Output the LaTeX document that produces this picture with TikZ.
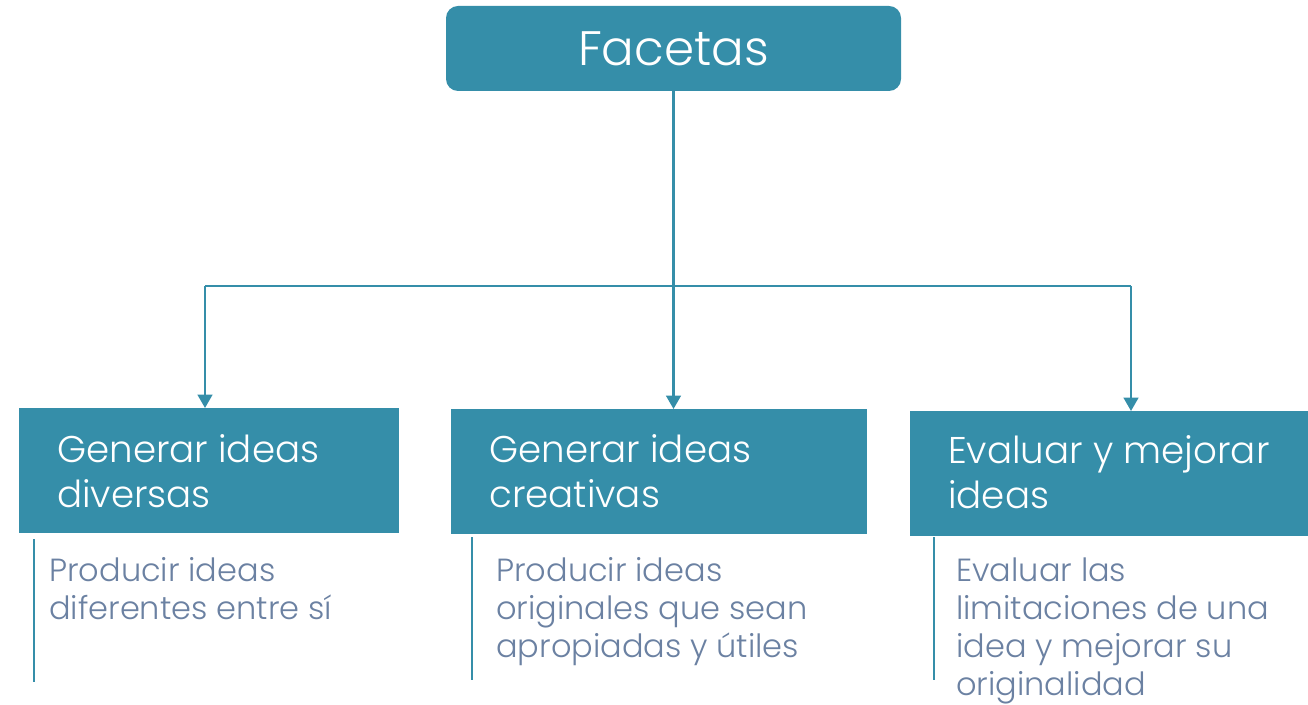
\documentclass[tikz,border=0pt]{standalone}
\usepackage{fontspec}
\setmainfont{Poppins Light}
\usetikzlibrary{arrows.meta}
\definecolor{tealbox}{HTML}{358EA9}
\definecolor{desccol}{HTML}{6B81A2}
\begin{document}
\begin{tikzpicture}[x=0.75pt,y=-0.75pt,
  conn/.style={draw=tealbox,line width=1.7pt},
  arr/.style={conn,-{Triangle[width=11pt,length=10pt]}},
  box/.style={fill=tealbox,inner sep=0pt,anchor=north west},
  boxtext/.style={text=white,font=\fontsize{27.9}{33.75}\selectfont,align=left,anchor=base west,inner sep=0pt},
  desctext/.style={text=desccol,font=\fontsize{24}{28.3}\selectfont,align=left,anchor=base west,inner sep=0pt}]
\useasboundingbox (0,0) rectangle (1308,705);
% top box
\node[fill=tealbox,rounded corners=9pt,minimum width=341.25pt,minimum height=63.75pt,inner sep=0pt,text=white,font=\fontsize{36.3}{40}\selectfont] (top) at (673.5,48.5) {Facetas};
% boxes
\node[box,minimum width=285pt,minimum height=93.75pt] (b1) at (19,408) {};
\node[box,minimum width=312pt,minimum height=93.75pt] (b2) at (451,409) {};
\node[box,minimum width=298.5pt,minimum height=93.75pt] (b3) at (910,411) {};
% base anchor = baseline of the last line
\node[boxtext] (t1) at (57,507) {Generar ideas\\diversas};
\node[boxtext] (t2) at (489,507) {Generar ideas\\creativas};
\node[boxtext] (t3) at (948,508) {Evaluar y mejorar\\ideas};
% descriptions
\node[desctext] (d1) at (49,619) {Producir ideas\\diferentes entre sí};
\node[desctext] (d2) at (496,657) {Producir ideas\\originales que sean\\apropiadas y útiles};
\node[desctext] (d3) at (956,695) {Evaluar las\\limitaciones de una\\idea y mejorar su\\originalidad};
% connectors
\coordinate (hl) at (205,286);
\coordinate (hr) at (1131,286);
\draw[arr] (top.south) -- (top.south |- b2.north);
\draw[conn] (hl) -- (hr);
\draw[arr] (hl) -- (hl |- b1.north);
\draw[arr] (hr) -- (hr |- b3.north);
% side bars
\coordinate (s1a) at (34,539); \coordinate (s1b) at (34,682);
\coordinate (s2a) at (472,537); \coordinate (s2b) at (472,680);
\coordinate (s3a) at (934,537); \coordinate (s3b) at (934,680);
\draw[conn] (s1a) -- (s1b);
\draw[conn] (s2a) -- (s2b);
\draw[conn] (s3a) -- (s3b);
\end{tikzpicture}
\end{document}
